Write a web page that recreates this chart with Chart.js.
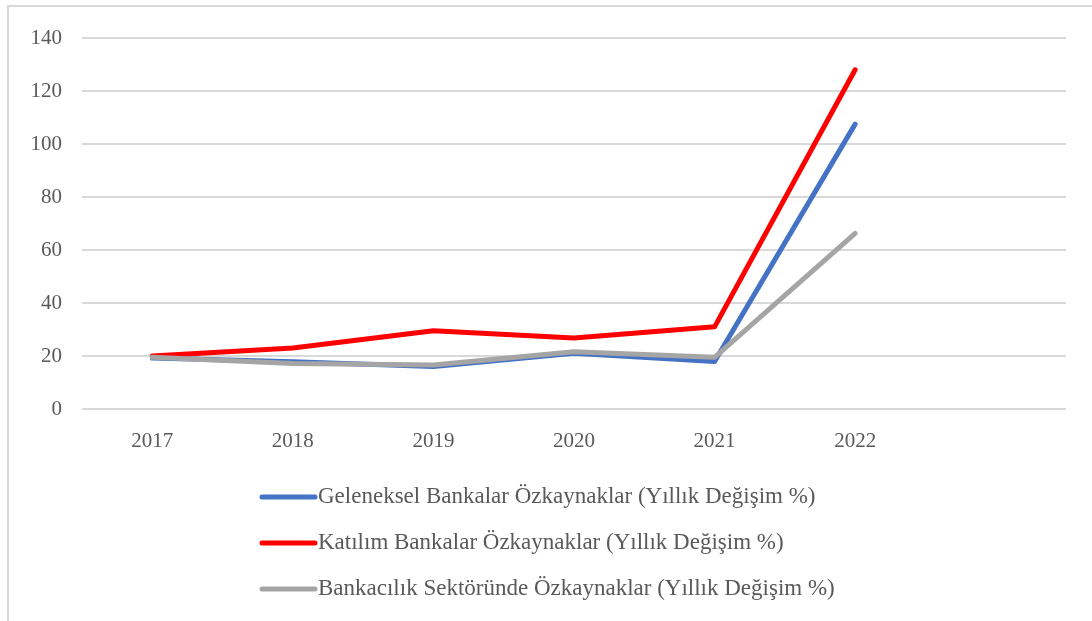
<!DOCTYPE html>
<html>
<head>
<meta charset="utf-8">
<script src="https://cdn.jsdelivr.net/npm/chart.js@4"></script>
<style>
  html, body { margin: 0; padding: 0; background: #fff; overflow: hidden; }
  #frame { position: absolute; left: 7px; top: 5px; width: 1100px; height: 640px; border: 2px solid #d9d9d9; }
  #wrap { position: absolute; left: 0; top: 0; width: 1092px; height: 621px; }
</style>
</head>
<body>
<div id="frame"></div>
<div id="wrap"><canvas id="chart" width="1092" height="621"></canvas></div>
<script>
const years = ['2017', '2018', '2019', '2020', '2021', '2022', ''];
const yTicks = [0, 20, 40, 60, 80, 100, 120, 140];

const seriesNames = [
  'Geleneksel Bankalar Özkaynaklar (Yıllık Değişim %)',
  'Katılım Bankalar Özkaynaklar (Yıllık Değişim %)',
  'Bankacılık Sektöründe Özkaynaklar (Yıllık Değişim %)',
];
const geleneksel = [19.2, 17.8, 16.0, 21.0, 17.9, 107.5];
const katilim    = [20.0, 23.0, 29.5, 26.8, 31.0, 128.0];
const sektor     = [19.5, 17.2, 16.6, 21.6, 19.5, 66.3];
const colors = ['#4472C4', '#FF0000', '#A5A5A5'];

const FONT = "'Liberation Serif', 'Times New Roman', serif";
const TEXT = '#595959';

// legend drawn as a vertical, left-aligned list like the original
const listLegend = {
  id: 'listLegend',
  afterDraw(chart) {
    const ctx = chart.ctx;
    const x0 = 260, lineLen = 55, rowY = [497, 543, 589];
    ctx.save();
    chart.data.datasets.forEach((ds, i) => {
      const y = rowY[i];
      ctx.strokeStyle = ds.borderColor;
      ctx.lineWidth = 5;
      ctx.lineCap = 'round';
      ctx.beginPath();
      ctx.moveTo(x0 + 2, y);
      ctx.lineTo(x0 + lineLen, y);
      ctx.stroke();
      ctx.fillStyle = TEXT;
      ctx.font = `23px ${FONT}`;
      ctx.textBaseline = 'middle';
      ctx.fillText(ds.label, x0 + lineLen + 3, y);
    });
    ctx.restore();
  }
};

const mk = (i, data, order) => ({
  label: seriesNames[i], data, borderColor: colors[i], backgroundColor: colors[i],
  borderWidth: 5, pointRadius: 0, tension: 0, borderCapStyle: 'round', borderJoinStyle: 'round', order,
});

new Chart(document.getElementById('chart').getContext('2d'), {
  type: 'line',
  data: {
    labels: years,
    datasets: [mk(0, geleneksel, 2), mk(1, katilim, 1), mk(2, sektor, 0)]
  },
  options: {
    responsive: false,
    animation: false,
    layout: { padding: { top: 38, right: 26, bottom: 162, left: 0 } },
    plugins: { legend: { display: false }, tooltip: { enabled: false } },
    scales: {
      x: {
        offset: true,
        grid: { display: false, drawTicks: false },
        border: { display: false },
        ticks: { color: TEXT, font: { family: FONT, size: 21 }, padding: 20, maxRotation: 0, autoSkip: false },
        afterFit: (s) => { s.height = 50; }
      },
      y: {
        min: 0, max: 140,
        afterBuildTicks: (s) => { s.ticks = yTicks.map(v => ({ value: v })); },
        grid: { color: '#d9d9d9', lineWidth: 2, drawTicks: false },
        border: { display: false },
        ticks: { color: TEXT, font: { family: FONT, size: 21 }, padding: 20 },
        afterFit: (s) => { s.width = 82; }
      }
    }
  },
  plugins: [listLegend]
});
</script>
</body>
</html>
